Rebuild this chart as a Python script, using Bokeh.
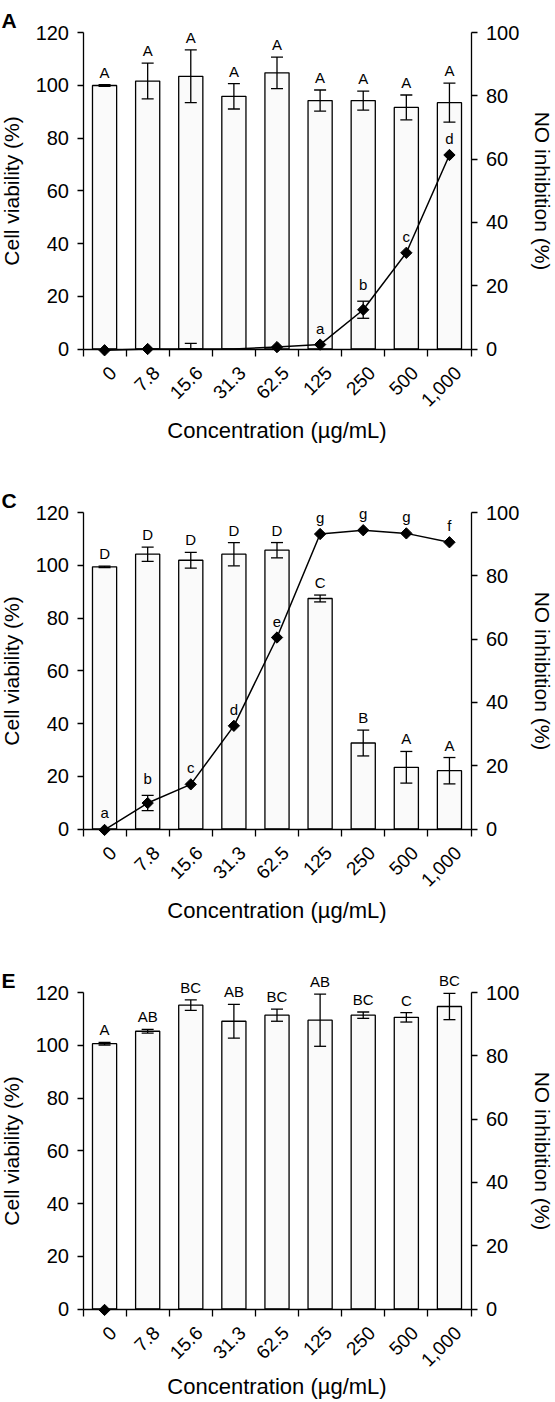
import math
import numpy as np
from bokeh.plotting import figure
from bokeh.models import (ColumnDataSource, Range1d, LinearAxis, FixedTicker,
                          Whisker, TeeHead, LabelSet, Label)
from bokeh.core.properties import value
from bokeh.layouts import column
from bokeh.embed import file_html
from bokeh.resources import INLINE

# ---------------- data ----------------
concentrations = ["0", "7.8", "15.6", "31.3", "62.5", "125", "250", "500", "1,000"]
x_label = "Concentration (\u00b5g/mL)"
left_label = "Cell viability (%)"
right_label = "NO inhibition (%)"

# Panel A
via_A = [99.9, 101.6, 103.4, 95.8, 104.7, 94.2, 94.2, 91.6, 93.4]
via_A_err = [0.3, 6.8, 10.0, 4.8, 6.0, 4.0, 3.6, 4.7, 7.4]
via_A_letters = ["A", "A", "A", "A", "A", "A", "A", "A", "A"]
no_A = [-0.4, 0.0, -1.0, -1.0, 0.6, 1.4, 12.4, 30.4, 61.3]
no_A_err = [0, 0, 2.8, 0, 0, 0, 2.7, 0, 0]
no_A_letters = ["", "", "", "", "", "a", "b", "c", "d"]

# Panel C
via_C = [99.4, 104.2, 101.9, 104.2, 105.7, 87.4, 32.6, 23.4, 22.1]
via_C_err = [0.3, 2.7, 3.0, 4.4, 2.9, 1.3, 4.9, 6.0, 5.0]
via_C_letters = ["D", "D", "D", "D", "D", "C", "B", "A", "A"]
no_C = [-0.3, 8.2, 14.1, 32.6, 60.5, 93.2, 94.4, 93.4, 90.6]
no_C_err = [0, 2.4, 0, 0, 0, 0, 0, 0, 0]
no_C_letters = ["a", "b", "c", "d", "e", "g", "g", "g", "f"]

# Panel E
via_E = [100.6, 105.3, 115.2, 109.1, 111.4, 109.5, 111.4, 110.6, 114.7]
via_E_err = [0.5, 0.7, 2.0, 6.4, 2.3, 9.9, 1.2, 1.8, 5.0]
via_E_letters = ["A", "AB", "BC", "AB", "BC", "AB", "BC", "C", "BC"]
no_E = [-0.3, None, None, None, None, None, None, None, None]
no_E_err = [0, 0, 0, 0, 0, 0, 0, 0, 0]
no_E_letters = ["", "", "", "", "", "", "", "", ""]

# ---------------- layout constants (pixels) ----------------
FONT = "Liberation Sans"
LEFT_MAX = 120
RIGHT_MAX = 100
FIG_W = 555
AX_LEFT = 82.5      # left axis position inside the figure
AX_RIGHT = 470.5    # right axis position inside the figure
AX_TOP = 32         # y of the 120 / 100 tick
AX_H = 316.5        # height of the value axes


def make_panel(tag, via, via_err, via_letters, no, no_err, no_letters,
               fig_h, xlabel_drop):
    n = len(concentrations)
    xc = np.arange(n) + 0.5
    xpx = (AX_RIGHT - AX_LEFT) / n
    ypx = AX_H / LEFT_MAX
    x0 = -AX_LEFT / xpx
    x1 = n + (FIG_W - AX_RIGHT) / xpx
    y1 = LEFT_MAX + AX_TOP / ypx
    y0 = -(fig_h - AX_TOP - AX_H) / ypx
    k = RIGHT_MAX / LEFT_MAX

    p = figure(frame_width=FIG_W, frame_height=fig_h,
               x_range=Range1d(x0, x1), y_range=Range1d(y0, y1),
               output_backend="svg", toolbar_location=None, title=None,
               x_axis_location=None, y_axis_location=None,
               min_border_left=0, min_border_right=0,
               min_border_top=0, min_border_bottom=0)
    p.extra_y_ranges = {"no": Range1d(y0 * k, y1 * k)}
    p.outline_line_color = None
    p.grid.visible = False
    p.background_fill_color = "white"
    p.border_fill_color = "white"

    # ---- category axis: line and boundary ticks ----
    xaxis = LinearAxis(
        ticker=FixedTicker(ticks=[], minor_ticks=list(range(n + 1))),
        fixed_location=0, bounds=(0, n))
    xaxis.axis_line_color = "black"
    xaxis.axis_line_width = 1.3
    xaxis.major_tick_line_color = None
    xaxis.minor_tick_line_color = "black"
    xaxis.minor_tick_line_width = 1.3
    xaxis.minor_tick_out = 7
    xaxis.minor_tick_in = 0
    p.add_layout(xaxis, "below")

    # category labels, rotated 45 degrees, ending under each bar
    csrc = ColumnDataSource(dict(x=xc, y=np.zeros(n), lab=concentrations))
    p.add_layout(LabelSet(x="x", y="y", text="lab", source=csrc,
                          x_offset=4, y_offset=-16,
                          angle=math.pi / 4, text_align="right", text_baseline="top",
                          text_font=value(FONT), text_font_size="19px",
                          text_color="black"))
    p.add_layout(Label(x=n / 2, y=0, y_offset=-xlabel_drop, text=x_label,
                       text_align="center", text_baseline="alphabetic",
                       text_font=FONT, text_font_size="22px", text_color="black"))

    # ---- value axes ----
    yl = LinearAxis(ticker=FixedTicker(ticks=list(range(0, LEFT_MAX + 1, 20))),
                    bounds=(0, LEFT_MAX), axis_label=left_label, fixed_location=0)
    yr = LinearAxis(y_range_name="no",
                    ticker=FixedTicker(ticks=list(range(0, RIGHT_MAX + 1, 20))),
                    bounds=(0, RIGHT_MAX), axis_label=right_label, fixed_location=n)
    for ax in (yl, yr):
        ax.axis_line_color = "black"
        ax.axis_line_width = 1.3
        ax.major_tick_line_color = "black"
        ax.major_tick_line_width = 1.3
        ax.major_tick_out = 6
        ax.major_tick_in = 0
        ax.minor_tick_line_color = None
        ax.major_label_text_font = FONT
        ax.major_label_text_font_size = "20px"
        ax.major_label_text_color = "black"
        ax.axis_label_text_font = FONT
        ax.axis_label_text_font_size = "21px"
        ax.axis_label_text_font_style = "normal"
        ax.axis_label_text_color = "black"
    yl.major_label_standoff = 8
    yr.major_label_standoff = 9
    yl.axis_label_standoff = 10
    yr.axis_label_standoff = 8
    p.add_layout(yl, "left")
    p.add_layout(yr, "right")

    # ---- bars with error bars and letters ----
    via_arr = np.array(via, dtype=float)
    verr = np.array(via_err, dtype=float)
    bsrc = ColumnDataSource(dict(x=xc, top=via_arr, upper=via_arr + verr,
                                 lower=via_arr - verr, lab=via_letters))
    p.vbar(x="x", top="top", bottom=0, width=0.56, source=bsrc,
           fill_color="#fafafa", line_color="black", line_width=1.3)
    p.add_layout(Whisker(base="x", upper="upper", lower="lower", source=bsrc,
                         line_color="black", line_width=1.3, level="overlay",
                         upper_head=TeeHead(size=12, line_color="black", line_width=1.3),
                         lower_head=TeeHead(size=12, line_color="black", line_width=1.3)))
    p.add_layout(LabelSet(x="x", y="upper", text="lab", source=bsrc, y_offset=7,
                          text_align="center", text_baseline="alphabetic",
                          text_font=value(FONT), text_font_size="15px",
                          text_color="black"))

    # ---- NO inhibition (values under the axis sit on it, as in the source plot) ----
    no_arr = np.array([np.nan if v is None else v for v in no], dtype=float)
    nerr = np.array(no_err, dtype=float)
    finite = np.isfinite(no_arr)
    visible = finite & (np.nan_to_num(no_arr, nan=-99) >= -0.5)
    line_y = np.where(no_arr < -0.5, 0.0, no_arr)
    if finite.sum() > 1:
        p.line(x=xc[finite], y=line_y[finite], y_range_name="no",
               line_color="black", line_width=1.5)
    p.scatter(x=xc[visible], y=no_arr[visible], y_range_name="no",
              marker="square", angle=math.pi / 4, size=8,
              fill_color="black", line_color="black")
    has_err = finite & (nerr > 0)
    if has_err.any():
        esrc = ColumnDataSource(dict(
            x=xc[has_err], upper=no_arr[has_err] + nerr[has_err],
            lower=np.maximum(no_arr[has_err] - nerr[has_err], 0)))
        p.add_layout(Whisker(base="x", upper="upper", lower="lower", source=esrc,
                             y_range_name="no", line_color="black", line_width=1.3,
                             level="overlay",
                             upper_head=TeeHead(size=12, line_color="black", line_width=1.3),
                             lower_head=TeeHead(size=12, line_color="black", line_width=1.3)))
    lab_idx = np.array([bool(t) for t in no_letters]) & finite
    if lab_idx.any():
        ltop = np.maximum(no_arr + nerr, 0)
        lsrc = ColumnDataSource(dict(x=xc[lab_idx], y=ltop[lab_idx],
                                     lab=[t for t, kk in zip(no_letters, lab_idx) if kk]))
        p.add_layout(LabelSet(x="x", y="y", text="lab", source=lsrc, y_offset=11,
                              y_range_name="no", text_align="center",
                              text_baseline="alphabetic", text_font=value(FONT),
                              text_font_size="15px", text_color="black"))

    # ---- panel tag ----
    p.add_layout(Label(x=0, y=LEFT_MAX, x_offset=-AX_LEFT + 1, y_offset=12, text=tag,
                       text_align="left", text_baseline="alphabetic",
                       text_font=FONT, text_font_size="21px",
                       text_font_style="bold", text_color="black"))
    return p


pA = make_panel("A", via_A, via_A_err, via_A_letters, no_A, no_A_err, no_A_letters, 480, 81)
pC = make_panel("C", via_C, via_C_err, via_C_letters, no_C, no_C_err, no_C_letters, 480, 81)
pE = make_panel("E", via_E, via_E_err, via_E_letters, no_E, no_E_err, no_E_letters, 442, 77)

layout = column(pA, pC, pE)
open("out.html", "w").write(file_html(layout, INLINE))
